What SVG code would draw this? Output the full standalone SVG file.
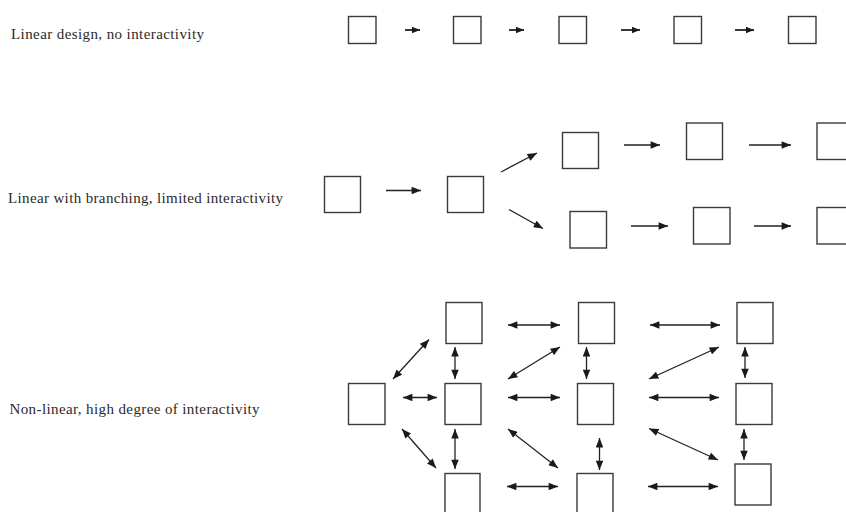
<svg xmlns="http://www.w3.org/2000/svg" width="846" height="512" viewBox="0 0 846 512">
<defs>
<marker id="ah" viewBox="0 0 10 8" refX="10" refY="4" markerWidth="10" markerHeight="7.5" markerUnits="userSpaceOnUse" orient="auto-start-reverse">
<path d="M0,0 L10,4 L0,8 z" fill="#1a1a1a"/>
</marker>
<marker id="ahs" viewBox="0 0 10 8" refX="10" refY="4" markerWidth="8.5" markerHeight="7.5" markerUnits="userSpaceOnUse" orient="auto-start-reverse">
<path d="M0,0 L10,4 L0,8 z" fill="#1a1a1a"/>
</marker>
</defs>
<style>
.b{fill:none;stroke:#3a3a3a;stroke-width:1.4}
.a{fill:none;stroke:#222;stroke-width:1.4;marker-end:url(#ah)}
.s{fill:none;stroke:#222;stroke-width:1.8;marker-end:url(#ahs)}
.d{fill:none;stroke:#222;stroke-width:1.3;marker-start:url(#ah);marker-end:url(#ah)}
.t{font-family:"Liberation Serif","Times New Roman",serif;font-size:15px;fill:#2a2a2a}
</style>
<rect width="846" height="512" fill="#ffffff"/>

<g id="labels">
<text class="t" x="11" y="39" textLength="193" lengthAdjust="spacing">Linear design, no interactivity</text>
<text class="t" x="8" y="202.5" textLength="275" lengthAdjust="spacing">Linear with branching, limited interactivity</text>
<text class="t" x="9.5" y="413.5" textLength="250" lengthAdjust="spacing">Non-linear, high degree of interactivity</text>
</g>

<g id="row1">
<g id="r1n1"><rect class="b" x="348.5" y="16.5" width="27.5" height="27"/></g>
<g id="r1n2"><rect class="b" x="453.5" y="16.5" width="27.5" height="27"/></g>
<g id="r1n3"><rect class="b" x="559" y="16.5" width="27.5" height="27"/></g>
<g id="r1n4"><rect class="b" x="674" y="16.5" width="27.5" height="27"/></g>
<g id="r1n5"><rect class="b" x="788.5" y="16.5" width="27.5" height="27"/></g>
</g>

<g id="row2">
<g id="r2a"><rect class="b" x="324.5" y="176.5" width="36" height="36"/></g>
<g id="r2b"><rect class="b" x="447.5" y="176.5" width="36" height="36"/></g>
<g id="r2c"><rect class="b" x="562.5" y="132.5" width="36" height="36"/></g>
<g id="r2d"><rect class="b" x="686.5" y="123" width="36" height="36.5"/></g>
<g id="r2e"><rect class="b" x="817" y="123" width="40" height="36.5"/></g>
<g id="r2f"><rect class="b" x="570" y="211.5" width="36.5" height="36.5"/></g>
<g id="r2g"><rect class="b" x="693.5" y="207.5" width="36.5" height="36.5"/></g>
<g id="r2h"><rect class="b" x="817" y="207.5" width="40" height="36.5"/></g>
</g>

<g id="row3">
<g id="r3l"><rect class="b" x="348.5" y="383.5" width="36.5" height="41"/></g>
<g id="r3t1"><rect class="b" x="446" y="302.5" width="36" height="41"/></g>
<g id="r3m1"><rect class="b" x="445" y="383.5" width="36" height="41"/></g>
<g id="r3b1"><rect class="b" x="445" y="473.5" width="35" height="45"/></g>
<g id="r3t2"><rect class="b" x="578.5" y="302.5" width="36" height="41"/></g>
<g id="r3m2"><rect class="b" x="577.5" y="383.5" width="36" height="41"/></g>
<g id="r3b2"><rect class="b" x="577" y="473.5" width="36" height="45"/></g>
<g id="r3t3"><rect class="b" x="737" y="302.5" width="36" height="41"/></g>
<g id="r3m3"><rect class="b" x="736" y="383.5" width="36" height="41"/></g>
<g id="r3b3"><rect class="b" x="735" y="464" width="36" height="41"/></g>
</g>

<g id="connectors">
<line class="s" x1="405" y1="30" x2="420" y2="30"/>
<line class="s" x1="509" y1="30" x2="524" y2="30"/>
<line class="s" x1="621" y1="30" x2="640" y2="30"/>
<line class="s" x1="735" y1="30" x2="754" y2="30"/>

<line class="a" x1="386" y1="190.5" x2="421" y2="190.5"/>
<line class="a" x1="501" y1="172" x2="537" y2="153"/>
<line class="a" x1="509" y1="209.5" x2="543" y2="228.5"/>
<line class="a" x1="624" y1="145" x2="660" y2="145"/>
<line class="a" x1="749" y1="145" x2="791" y2="145"/>
<line class="a" x1="631" y1="226" x2="668" y2="226"/>
<line class="a" x1="754" y1="226" x2="791" y2="226"/>

<line class="d" x1="393" y1="379" x2="429" y2="339.5"/>
<line class="d" x1="403" y1="397.5" x2="437" y2="397.5"/>
<line class="d" x1="402" y1="429" x2="436" y2="468"/>
<line class="d" x1="455" y1="347" x2="455" y2="379"/>
<line class="d" x1="455" y1="429" x2="455" y2="469"/>
<line class="d" x1="508" y1="325" x2="560" y2="325"/>
<line class="d" x1="508" y1="379" x2="560" y2="347"/>
<line class="d" x1="508" y1="397.5" x2="560" y2="397.5"/>
<line class="d" x1="508" y1="429" x2="558" y2="468"/>
<line class="d" x1="507" y1="486.5" x2="558" y2="486.5"/>
<line class="d" x1="586.5" y1="347" x2="586.5" y2="379"/>
<line class="d" x1="599.5" y1="438" x2="599.5" y2="470"/>
<line class="d" x1="650" y1="325" x2="720" y2="325"/>
<line class="d" x1="649" y1="379" x2="719" y2="347"/>
<line class="d" x1="649" y1="397.5" x2="719" y2="397.5"/>
<line class="d" x1="649" y1="428.5" x2="718" y2="460"/>
<line class="d" x1="648" y1="486.5" x2="718" y2="486.5"/>
<line class="d" x1="745" y1="347" x2="745" y2="378"/>
<line class="d" x1="744" y1="429" x2="744" y2="460"/>
</g>
</svg>
